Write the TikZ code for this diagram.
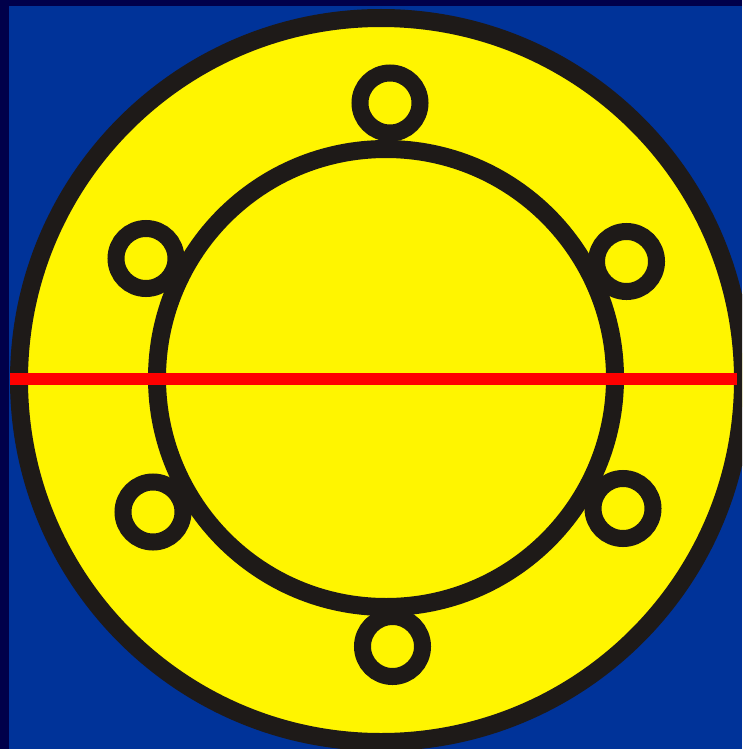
\documentclass[tikz,border=0pt]{standalone}
\definecolor{bgblue}{HTML}{003399}
\definecolor{navy}{HTML}{00004A}
\definecolor{ylw}{HTML}{FFF500}
\definecolor{ink}{HTML}{1E1A18}
\definecolor{redline}{HTML}{FF0000}
\tikzset{
  ring/.style={draw=ink, fill=ylw, line width=17pt},
  bigring/.style={draw=ink, fill=ylw, line width=18pt},
  axis/.style={draw=redline, line width=12pt}
}
\begin{document}
\begin{tikzpicture}[x=1pt,y=-1pt]
\useasboundingbox (0,0) rectangle (742,749);
\begin{scope}
\clip (0,0) rectangle (742,749);
\fill[navy] (0,0) rectangle (742,749);
\fill[bgblue] (9,6) rectangle (742,749);
% outer disc
\path[bigring] (381,380) circle[radius=362];
% small rings
\path[ring] (390,103) circle[radius=30];
\path[ring] (146,258.5) circle[radius=30];
\path[ring] (626.5,261.5) circle[radius=30];
\path[ring] (153,512) circle[radius=30];
\path[ring] (623,508.5) circle[radius=30];
\path[ring] (392.5,646.5) circle[radius=30];
% inner circle
\path[bigring] (386,378) circle[radius=229];
% red line
\coordinate (L) at (10,379);
\coordinate (R) at (737,379);
\draw[axis] (L) -- (R);
\end{scope}
\end{tikzpicture}
\end{document}
